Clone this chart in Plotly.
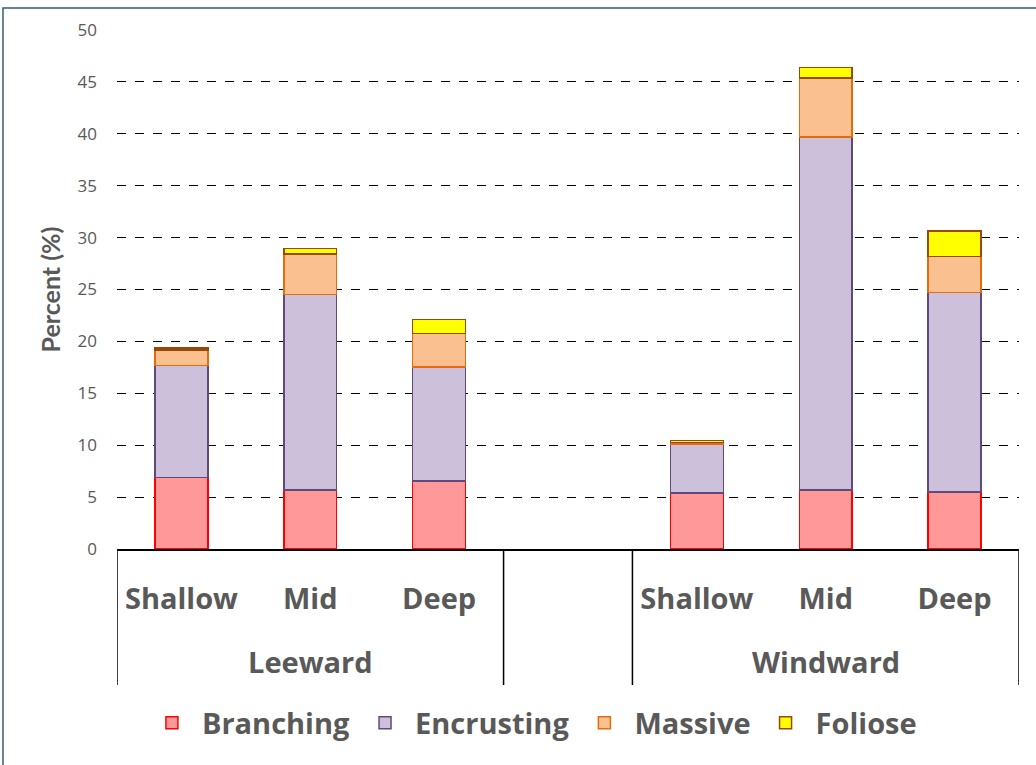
import plotly.graph_objects as go

sites = ["Leeward", "Leeward", "Leeward", "", "Windward", "Windward", "Windward"]
depths = ["Shallow", "Mid", "Deep", "", "Shallow", "Mid", "Deep"]

branching = [6.9, 5.7, 6.55, None, 5.4, 5.7, 5.5]
encrusting = [10.8, 18.8, 11.0, None, 4.7, 34.0, 19.2]
massive = [1.45, 3.9, 3.2, None, 0.15, 5.7, 3.5]
foliose = [0.2, 0.55, 1.35, None, 0.2, 1.0, 2.45]

series = [
    ("Branching", branching, "#FF9999", "#FF0000"),
    ("Encrusting", encrusting, "#CCC0DA", "#604A7B"),
    ("Massive", massive, "#FAC090", "#E46C0A"),
    ("Foliose", foliose, "#FFFF00", "#984807"),
]

xpos = list(range(len(depths)))
grey = "#595959"
FONT = "Lato, Open Sans, sans-serif"
BIG = "Open Sans, Lato, sans-serif"

fig = go.Figure()
for name, vals, fill, edge in series:
    fig.add_trace(go.Bar(
        x=xpos, y=vals, name=name,
        marker=dict(color=fill, line=dict(color=edge, width=1.5)),
    ))

# group labels and dividers derived from the site list
shapes = []
annotations = []
bounds = [-0.5]
for i in range(1, len(sites)):
    if sites[i] != sites[i - 1]:
        bounds.append(i - 0.5)
bounds.append(len(sites) - 0.5)
div_bottom = -0.262
for b in bounds:
    shapes.append(dict(type="line", xref="x", yref="paper", x0=b, x1=b,
                       y0=0, y1=div_bottom, line=dict(color="black", width=1.5)))
for a, b in zip(bounds[:-1], bounds[1:]):
    label = sites[int(a + 0.5)]
    if label:
        annotations.append(dict(text=label, xref="x", yref="paper", x=(a + b) / 2,
                                y=-0.2177, yanchor="middle", showarrow=False,
                                font=dict(size=29, color=grey, family=BIG, weight="bold")))

# outer chart border (left & top visible)
shapes.append(dict(type="rect", xref="paper", yref="paper",
                   x0=-0.1264, x1=1.05, y0=-0.6, y1=1.0424,
                   line=dict(color="#2E6070", width=1.5), fillcolor="rgba(0,0,0,0)", layer="below"))

fig.update_layout(
    barmode="stack",
    bargap=0.59,
    width=1036, height=765,
    margin=dict(l=117, r=17, t=30, b=216),
    paper_bgcolor="white", plot_bgcolor="white",
    font=dict(family=FONT, color=grey),
    showlegend=True,
    legend=dict(orientation="h", x=0.46, xanchor="center", y=-0.335, yanchor="middle",
                font=dict(size=29, color=grey, family=BIG, weight="bold"), itemwidth=50,
                traceorder="normal"),
    xaxis=dict(
        range=[-0.5, len(depths) - 0.5],
        tickmode="array", tickvals=xpos, ticktext=depths,
        showline=True, linecolor="black", linewidth=1.5,
        tickfont=dict(size=29, color=grey, family=BIG, weight="bold"),
        ticks="", ticklabelstandoff=23,
        showgrid=False, zeroline=False,
    ),
    yaxis=dict(
        range=[0, 50], dtick=5,
        showgrid=True, gridcolor="black", gridwidth=1.4, griddash="dash",
        zeroline=False, showline=False,
        tickfont=dict(size=17, color=grey, family="Open Sans"),
        ticks="", ticklabelstandoff=19,
        title=dict(text="Percent (%)", font=dict(size=25, color=grey, family=FONT, weight="bold"),
                   standoff=9),
    ),
    shapes=shapes,
    annotations=annotations,
)

fig.write_html("out.html", config={"displayModeBar": False},
               post_script="document.body.style.margin='0';")
